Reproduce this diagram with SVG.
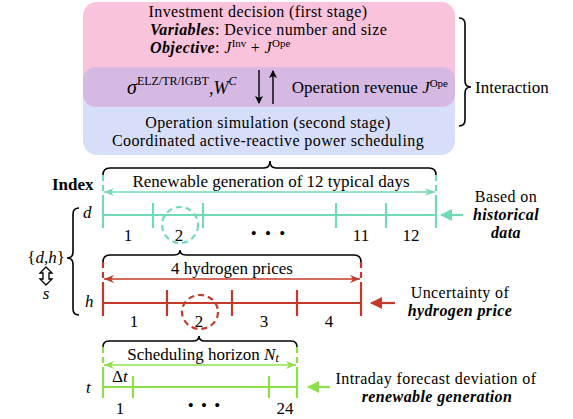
<svg xmlns="http://www.w3.org/2000/svg" width="573" height="419" viewBox="0 0 573 419" font-family="'Liberation Serif', 'Times New Roman', serif">
<style>
text{font-family:'Liberation Serif','Times New Roman',serif;font-size:17px;fill:#000}
.st{font-size:16px;letter-spacing:0.4px}
.c{text-anchor:middle}
.i{font-style:italic}
.bi{font-style:italic;font-weight:bold}
.b{font-weight:bold}
.sup{font-size:11px;letter-spacing:0}
.brace{fill:none;stroke:#000;stroke-width:1.6}
.teal{stroke:#72DAB8;stroke-width:2.2;fill:none}
.red{stroke:#C23B2A;stroke-width:2.2;fill:none}
.grn{stroke:#8EE04A;stroke-width:2.2;fill:none}
.dash{stroke-dasharray:6,4}
.thin{stroke-width:1.6}
</style>
<defs>
<marker id="mT" markerWidth="10" markerHeight="8" refX="10" refY="4" orient="auto-start-reverse" markerUnits="userSpaceOnUse"><path d="M0,0 L10,4 L0,8 L3,4 Z" fill="#72DAB8"/></marker>
<marker id="mR" markerWidth="10" markerHeight="8" refX="10" refY="4" orient="auto-start-reverse" markerUnits="userSpaceOnUse"><path d="M0,0 L10,4 L0,8 L3,4 Z" fill="#C23B2A"/></marker>
<marker id="mG" markerWidth="10" markerHeight="8" refX="10" refY="4" orient="auto-start-reverse" markerUnits="userSpaceOnUse"><path d="M0,0 L10,4 L0,8 L3,4 Z" fill="#8EE04A"/></marker>
<marker id="bT" markerWidth="12" markerHeight="12" refX="11" refY="6" orient="auto" markerUnits="userSpaceOnUse"><path d="M0,0 L12,6 L0,12 Z" fill="#72DAB8"/></marker>
<marker id="bR" markerWidth="12" markerHeight="12" refX="11" refY="6" orient="auto" markerUnits="userSpaceOnUse"><path d="M0,0 L12,6 L0,12 Z" fill="#C23B2A"/></marker>
<marker id="bG" markerWidth="12" markerHeight="12" refX="11" refY="6" orient="auto" markerUnits="userSpaceOnUse"><path d="M0,0 L12,6 L0,12 Z" fill="#8EE04A"/></marker>
<marker id="bK" markerWidth="8" markerHeight="12" refX="7" refY="4" orient="auto" markerUnits="userSpaceOnUse"><path d="M0,0 L8,4 L0,8 L2,4 Z" fill="#000"/></marker>
</defs>

<g id="investment">
<rect x="83" y="2" width="372" height="95" rx="14" fill="#F8C3DB"/>
<text class="c st" x="258" y="17">Investment decision (first stage)</text>
<text class="st" x="150" y="35"><tspan class="bi">Variables</tspan>: Device number and size</text>
<text class="st" x="150" y="53"><tspan class="bi">Objective</tspan>: <tspan class="i">J</tspan><tspan class="sup" dy="-6">Inv</tspan><tspan dy="6"> + </tspan><tspan class="i">J</tspan><tspan class="sup" dy="-6">Ope</tspan></text>
</g>
<g id="simulation">
<rect x="83" y="78" width="372" height="77" rx="14" fill="#D6DEF9"/>
<text class="c st" x="268" y="128">Operation simulation (second stage)</text>
<text class="c st" x="268" y="146">Coordinated active-reactive power scheduling</text>
</g>
<g id="exchange">
<rect x="83" y="67" width="372" height="40" rx="13" fill="#D5B9E3"/>
<text x="127" y="94"><tspan class="i" font-size="20">σ</tspan><tspan font-size="12" dy="-9">ELZ/TR/IGBT</tspan><tspan dy="9" font-size="18">,</tspan><tspan class="i" font-size="18">W</tspan><tspan class="i" font-size="12" dy="-9">C</tspan></text>
<text x="448" y="93" text-anchor="end">Operation revenue <tspan class="i">J</tspan><tspan class="sup" dy="-6">Ope</tspan></text>
</g>

<g id="interaction">
<path class="brace" d="M459,18 Q465,18 465,24 L465,81 Q465,87 471,87 Q465,87 465,93 L465,120 Q465,126 459,126"/>
<text x="475" y="93">Interaction</text>
</g>

<g id="index-labels">
<text class="b" x="52" y="190" font-size="18">Index</text>
<text class="i" x="83" y="218">d</text>
<text class="i" x="85" y="307">h</text>
<text class="i" x="86" y="393">t</text>
<path class="brace" d="M79,208 Q73,208 73,214 L73,252 Q73,258 67,258 Q73,258 73,264 L73,309 Q73,315 79,315"/>
<text class="c" x="46" y="263" font-size="16">{<tspan class="i">d</tspan>,<tspan class="i">h</tspan>}</text>
<path d="M46,267 L52,273 L49,273 L49,279 L52,279 L46,285 L40,279 L43,279 L43,273 L40,273 Z" fill="#fff" stroke="#000" stroke-width="1.3"/>
<text class="c i" x="46" y="299">s</text>
</g>

<g id="days">
<path class="brace" d="M103,175 Q103,168 110,168 L264,168 Q270,168 270,161 Q270,168 276,168 L429,168 Q436,168 436,175"/>
<text class="c" x="271" y="187">Renewable generation of 12 typical days</text>
<line class="teal dash" x1="103" y1="175" x2="103" y2="197"/>
<line class="teal dash" x1="436" y1="175" x2="436" y2="197"/>
<line class="teal thin" x1="104" y1="192" x2="435" y2="192" marker-start="url(#mT)" marker-end="url(#mT)"/>
<line class="teal" x1="103" y1="215" x2="436" y2="215"/>
<line class="teal" x1="103" y1="197" x2="103" y2="228"/>
<line class="teal" x1="153" y1="203" x2="153" y2="228"/>
<line class="teal" x1="203" y1="203" x2="203" y2="228"/>
<line class="teal" x1="336" y1="203" x2="336" y2="228"/>
<line class="teal" x1="386" y1="203" x2="386" y2="228"/>
<line class="teal" x1="436" y1="197" x2="436" y2="228"/>
<ellipse class="teal dash" cx="180" cy="225" rx="18" ry="18"/>
<text class="c" x="128" y="241">1</text>
<text class="c" x="179" y="241">2</text>
<text class="c" x="268" y="239" font-size="15" word-spacing="4">• • •</text>
<text class="c" x="361" y="241">11</text>
<text class="c" x="411" y="241">12</text>
</g>
<g id="historical">
<line class="teal" x1="463" y1="215" x2="441" y2="215" marker-end="url(#bT)"/>
<text class="c st" x="506" y="202">Based on</text>
<text class="c st bi" x="506" y="220">historical</text>
<text class="c st bi" x="506" y="238">data</text>
</g>

<g id="prices">
<path class="brace" d="M103,262 Q103,255 110,255 L174,255 Q180,255 180,250 Q180,255 186,255 L354,255 Q361,255 361,262"/>
<text class="c" x="232" y="274">4 hydrogen prices</text>
<line class="red dash" x1="103" y1="262" x2="103" y2="285"/>
<line class="red dash" x1="361" y1="262" x2="361" y2="285"/>
<line class="red thin" x1="104" y1="279" x2="360" y2="279" marker-start="url(#mR)" marker-end="url(#mR)"/>
<line class="red" x1="103" y1="303" x2="361" y2="303"/>
<line class="red" x1="103" y1="285" x2="103" y2="316"/>
<line class="red" x1="167" y1="290" x2="167" y2="316"/>
<line class="red" x1="232" y1="290" x2="232" y2="316"/>
<line class="red" x1="297" y1="290" x2="297" y2="316"/>
<line class="red" x1="361" y1="285" x2="361" y2="316"/>
<ellipse class="red dash" cx="200" cy="312" rx="18" ry="17"/>
<text class="c" x="134" y="327">1</text>
<text class="c" x="199" y="327">2</text>
<text class="c" x="264" y="327">3</text>
<text class="c" x="329" y="327">4</text>
</g>
<g id="uncertainty">
<line class="red" x1="395" y1="303" x2="371" y2="303" marker-end="url(#bR)"/>
<text class="c st" x="460" y="298">Uncertainty of</text>
<text class="c st bi" x="460" y="316">hydrogen price</text>
</g>

<g id="horizon">
<path class="brace" d="M103,347 Q103,341 109,341 L193,341 Q199,341 199,336 Q199,341 205,341 L291,341 Q297,341 297,347"/>
<text class="c" x="203" y="360">Scheduling horizon <tspan class="i">N</tspan><tspan class="i" font-size="12" dy="2">t</tspan></text>
<line class="grn dash" x1="103" y1="347" x2="103" y2="370"/>
<line class="grn dash" x1="297" y1="347" x2="297" y2="370"/>
<line class="grn thin" x1="104" y1="365" x2="296" y2="365" marker-start="url(#mG)" marker-end="url(#mG)"/>
<line class="grn" x1="103" y1="387" x2="297" y2="387"/>
<line class="grn" x1="103" y1="370" x2="103" y2="398"/>
<line class="grn" x1="133" y1="376" x2="133" y2="398"/>
<line class="grn" x1="269" y1="376" x2="269" y2="398"/>
<line class="grn" x1="297" y1="370" x2="297" y2="398"/>
<text x="112" y="382">Δ<tspan class="i">t</tspan></text>
<text class="c" x="120" y="414">1</text>
<text class="c" x="204" y="411" font-size="15" word-spacing="3">• • •</text>
<text class="c" x="285" y="414">24</text>
</g>
<g id="forecast">
<line class="grn" x1="330" y1="387" x2="308" y2="387" marker-end="url(#bG)"/>
<text class="c st" x="436" y="384">Intraday forecast deviation of</text>
<text class="c st bi" x="437" y="402">renewable generation</text>
</g>

<g id="connectors">
<line x1="259" y1="70" x2="259" y2="103" stroke="#000" stroke-width="1.4" marker-end="url(#bK)"/>
<line x1="273" y1="104" x2="273" y2="71" stroke="#000" stroke-width="1.4" marker-end="url(#bK)"/>
</g>
</svg>
